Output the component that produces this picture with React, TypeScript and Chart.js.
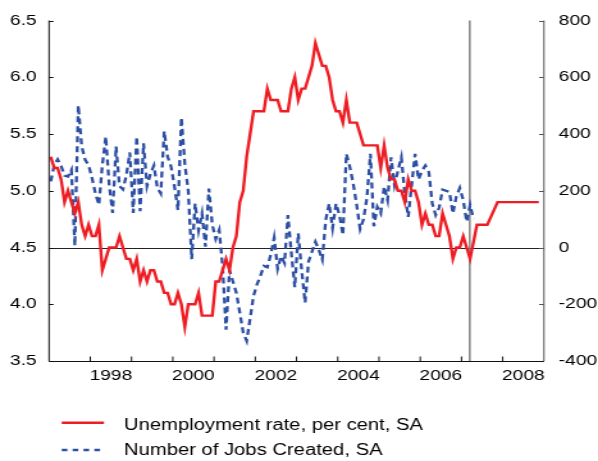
import React, { useEffect, useRef } from 'react';
import { Chart, registerables } from 'chart.js';

Chart.register(...registerables);

// ---------- data ----------
const START_YEAR = 1997; // first month of both series = Jan 1997

// Unemployment rate, per cent, SA (monthly, Jan 1997 – Mar 2007)
const unemploymentRate = [
  5.3, 5.2, 5.2, 5.1, 4.9, 5.0, 4.9, 4.8, 4.9, 4.7, 4.6, 4.7,
  4.6, 4.6, 4.7, 4.3, 4.4, 4.5, 4.5, 4.5, 4.6, 4.5, 4.4, 4.4,
  4.3, 4.4, 4.2, 4.3, 4.2, 4.3, 4.3, 4.2, 4.2, 4.1, 4.1, 4.0,
  4.0, 4.1, 4.0, 3.8, 4.0, 4.0, 4.0, 4.1, 3.9, 3.9, 3.9, 3.9,
  4.2, 4.2, 4.3, 4.4, 4.3, 4.5, 4.6, 4.9, 5.0, 5.3, 5.5, 5.7,
  5.7, 5.7, 5.7, 5.9, 5.8, 5.8, 5.8, 5.7, 5.7, 5.7, 5.9, 6.0,
  5.8, 5.9, 5.9, 6.0, 6.1, 6.3, 6.2, 6.1, 6.1, 6.0, 5.8, 5.7,
  5.7, 5.6, 5.8, 5.6, 5.6, 5.6, 5.5, 5.4, 5.4, 5.4, 5.4, 5.4,
  5.2, 5.4, 5.2, 5.1, 5.1, 5.0, 5.0, 4.9, 5.1, 5.0, 5.0, 4.9,
  4.7, 4.8, 4.7, 4.7, 4.6, 4.6, 4.8, 4.7, 4.6, 4.4, 4.5, 4.5,
  4.6, 4.5, 4.4,
];

// Projection (month index from Jan 1997, value)
const forecastMonthIndex = [124, 127, 130, 133, 136, 139, 142];
const forecastRate = [4.7, 4.7, 4.9, 4.9, 4.9, 4.9, 4.9];

// Number of jobs created, SA, thousands (monthly, Jan 1997 – Apr 2007)
const jobsCreated = [
  233, 291, 311, 288, 253, 250, 274, 6, 501, 356, 309, 290,
  245, 190, 150, 290, 391, 220, 122, 356, 216, 205, 255, 335,
  122, 391, 128, 367, 216, 260, 289, 210, 190, 410, 320, 285,
  214, 132, 458, 295, 200, -41, 155, 60, 120, 3, 208, 80,
  30, 62, -66, -290, -80, -120, -160, -230, -300, -329, -250, -170,
  -130, -100, -65, -70, -25, 35, -75, -30, -55, 114, -20, -140,
  50, -80, -195, -50, -15, 20, -8, -43, 97, 155, 68, 155,
  114, 44, 330, 285, 225, 150, 65, 100, 178, 330, 75, 143,
  120, 215, 167, 318, 220, 270, 318, 190, 108, 220, 330, 240,
  270, 289, 266, 155, 114, 140, 204, 200, 196, 120, 180, 210,
  167, 91, 150, 100,
];

const seriesLabels = ['Unemployment rate, per cent, SA', 'Number of Jobs Created, SA'];
const leftTicks = [3.5, 4.0, 4.5, 5.0, 5.5, 6.0, 6.5];
const rightTicks = [-400, -200, 0, 200, 400, 600, 800];
const yearTicks = [1998, 1999, 2000, 2001, 2002, 2003, 2004, 2005, 2006, 2007, 2008];
const labelYears = [1998, 2000, 2002, 2004, 2006, 2008];
const forecastStart = 2007.2;

// ---------- layout / style ----------
const STRETCH = 598 / 467;
const W = 467;
const H = 461;
const FONT = '"Liberation Sans", Arial, Helvetica, sans-serif';
const RED = '#EE1D24';
const BLUE = '#2D4FA3';

const monthToYear = (i: number) => START_YEAR + (i + 0.5) / 12;

const framePlugin = {
  id: 'frame',
  beforeDatasetsDraw(chart: any) {
    const { ctx, chartArea, scales } = chart;
    ctx.save();
    const y0 = Math.round(scales.y1.getPixelForValue(0)) + 0.5;
    ctx.strokeStyle = '#222';
    ctx.lineWidth = 1.2;
    ctx.beginPath();
    ctx.moveTo(chartArea.left, y0);
    ctx.lineTo(chartArea.right, y0);
    ctx.stroke();
    const xv = scales.x.getPixelForValue(forecastStart);
    ctx.strokeStyle = '#808080';
    ctx.lineWidth = 1.5;
    ctx.beginPath();
    ctx.moveTo(xv, chartArea.top);
    ctx.lineTo(xv, chartArea.bottom);
    ctx.stroke();
    ctx.restore();
  },
  afterDatasetsDraw(chart: any) {
    const { ctx, chartArea, scales } = chart;
    const { left, right, top, bottom } = chartArea;
    ctx.save();
    ctx.lineWidth = 1;
    ctx.strokeStyle = '#111';
    ctx.beginPath();
    ctx.moveTo(left, top);
    ctx.lineTo(left, bottom);
    ctx.stroke();
    leftTicks.forEach((t) => {
      const y = Math.round(scales.y.getPixelForValue(t)) + 0.5;
      ctx.beginPath();
      ctx.moveTo(left, y);
      ctx.lineTo(left + 3.5, y);
      ctx.stroke();
    });
    ctx.strokeStyle = '#555';
    ctx.beginPath();
    ctx.moveTo(right, top);
    ctx.lineTo(right, bottom);
    ctx.stroke();
    rightTicks.forEach((t) => {
      const y = Math.round(scales.y1.getPixelForValue(t)) + 0.5;
      ctx.beginPath();
      ctx.moveTo(right, y);
      ctx.lineTo(right - 3.8, y);
      ctx.stroke();
    });
    ctx.strokeStyle = '#111';
    const yb = Math.round(bottom) + 0.5;
    ctx.beginPath();
    ctx.moveTo(left, yb);
    ctx.lineTo(right, yb);
    ctx.stroke();
    yearTicks.forEach((yr) => {
      const x = scales.x.getPixelForValue(yr);
      ctx.beginPath();
      ctx.moveTo(x, yb);
      ctx.lineTo(x, yb - 5);
      ctx.stroke();
    });
    ctx.restore();
  },
  afterDraw(chart: any) {
    const { ctx } = chart;
    const rows = [
      { lineY: 422.7, textY: 429.5, x0: 48.2, x1: 81.2, dash: [] as number[] },
      { lineY: 450, textY: 454.5, x0: 48.2, x1: 78.9, dash: [4.4, 4.1] },
    ];
    ctx.save();
    chart.data.datasets.forEach((ds: any, i: number) => {
      const r = rows[i];
      ctx.strokeStyle = ds.borderColor;
      ctx.lineWidth = ds.borderWidth;
      ctx.setLineDash(r.dash);
      ctx.beginPath();
      ctx.moveTo(r.x0, r.lineY);
      ctx.lineTo(r.x1, r.lineY);
      ctx.stroke();
      ctx.setLineDash([]);
      ctx.fillStyle = '#000';
      ctx.font = `15.8px ${FONT}`;
      ctx.textBaseline = 'alphabetic';
      ctx.textAlign = 'left';
      ctx.fillText(ds.label, 96.8, r.textY);
    });
    ctx.restore();
  },
};

export default function App() {
  const canvasRef = useRef<HTMLCanvasElement | null>(null);

  useEffect(() => {
    const canvas = canvasRef.current;
    if (!canvas) return;

    const redPoints = unemploymentRate
      .map((v, i) => ({ x: monthToYear(i), y: v }))
      .concat(forecastMonthIndex.map((m, k) => ({ x: monthToYear(m), y: forecastRate[k] })));
    const bluePoints = jobsCreated.map((v, i) => ({ x: monthToYear(i), y: v }));

    const tickFont = { family: FONT, size: 15 };

    const chart = new Chart(canvas, {
      type: 'line',
      data: {
        datasets: [
          {
            label: seriesLabels[0],
            data: redPoints,
            yAxisID: 'y',
            borderColor: RED,
            borderWidth: 2.4,
            pointRadius: 0,
            tension: 0,
            fill: false,
          },
          {
            label: seriesLabels[1],
            data: bluePoints,
            yAxisID: 'y1',
            borderColor: BLUE,
            borderWidth: 2.3,
            borderDash: [6, 4],
            pointRadius: 0,
            tension: 0,
            fill: false,
          },
        ],
      },
      options: {
        responsive: false,
        animation: false,
        devicePixelRatio: 1,
        events: [],
        layout: { padding: { top: 18, bottom: 70, left: 0, right: 0 } },
        plugins: {
          legend: { display: false },
          tooltip: { enabled: false },
          title: { display: false },
        },
        scales: {
          x: {
            type: 'linear',
            min: 1997,
            max: 2009,
            grid: { display: false, drawTicks: false, tickLength: 0 },
            border: { display: false },
            ticks: {
              stepSize: 0.5,
              autoSkip: false,
              maxRotation: 0,
              minRotation: 0,
              padding: 6,
              color: '#000',
              font: tickFont,
              callback: (value: any) => {
                const v = Number(value);
                const yr = Math.floor(v);
                return Math.abs(v - yr - 0.5) < 1e-6 && labelYears.includes(yr) ? String(yr) : '';
              },
            },
            afterFit: (s: any) => {
              s.height = 30;
            },
          },
          y: {
            position: 'left',
            min: 3.5,
            max: 6.5,
            grid: { display: false, drawTicks: false, tickLength: 0 },
            border: { display: false },
            ticks: {
              stepSize: 0.5,
              padding: 9.6,
              color: '#000',
              font: tickFont,
              callback: (v: any) => Number(v).toFixed(1),
            },
            afterFit: (s: any) => {
              s.width = 38.3;
            },
          },
          y1: {
            position: 'right',
            min: -400,
            max: 800,
            grid: { display: false, drawTicks: false, tickLength: 0 },
            border: { display: false },
            ticks: {
              stepSize: 200,
              padding: 11.5,
              color: '#000',
              font: tickFont,
              callback: (v: any) => String(Number(v)),
            },
            afterFit: (s: any) => {
              s.width = W - 424.8;
            },
          },
        },
      } as any,
      plugins: [framePlugin],
    });

    return () => chart.destroy();
  }, []);

  return (
    <div style={{ position: 'fixed', left: 0, top: 0, width: 598, height: H, overflow: 'hidden', background: '#fff' }}>
      <div style={{ width: W, height: H, transform: `scaleX(${STRETCH})`, transformOrigin: '0 0' }}>
        <canvas ref={canvasRef} width={W} height={H} style={{ display: 'block', width: W, height: H }} />
      </div>
    </div>
  );
}
